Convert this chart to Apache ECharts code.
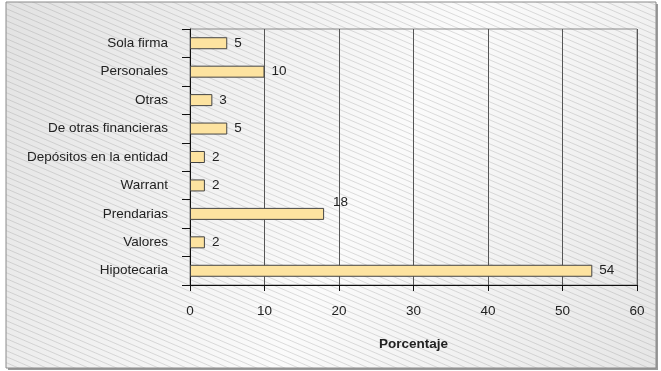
<!DOCTYPE html>
<html><head><meta charset="utf-8">
<script src="https://cdn.jsdelivr.net/npm/echarts@6/dist/echarts.min.js"></script>
<style>html,body{margin:0;padding:0;background:#fff}#c{width:661px;height:371px}</style>
</head><body><div id="c"></div>
<script>
var categories = ['Hipotecaria','Valores','Prendarias','Warrant','Depósitos en la entidad','De otras financieras','Otras','Personales','Sola firma'];
var values = [54, 2, 18, 2, 2, 5, 3, 10, 5];
var axisName = 'Porcentaje';

var tile = document.createElement('canvas');
tile.width = 14; tile.height = 6;
var tc = tile.getContext('2d');
tc.strokeStyle = 'rgba(150,150,150,0.4)';
tc.lineWidth = 0.8;
tc.beginPath(); tc.moveTo(-14,-6); tc.lineTo(28,12); tc.stroke();
tc.beginPath(); tc.moveTo(-14,0); tc.lineTo(14,12); tc.stroke();
tc.beginPath(); tc.moveTo(0,-6); tc.lineTo(28,6); tc.stroke();

var FS = 13.5;
var chart = echarts.init(document.getElementById('c'), null, {renderer:'canvas'});
var data = values.map(function(v, i){
  var d = {value: v};
  if (categories[i] === 'Prendarias') {
    d.label = {position: ['100%', -13], offset: [9, 0]};
  }
  return d;
});
chart.setOption({
  animation: false,
  graphic: [
    {type:'rect', z:-10, shape:{x:8,y:4,width:650,height:366}, style:{fill:'#9a9a9a'}},
    {type:'rect', z:-9, shape:{x:6,y:2,width:650,height:366},
      style:{fill:new echarts.graphic.LinearGradient(0,0,1,1,[
        {offset:0,color:'#e2e2e2'},{offset:0.55,color:'#fbfbfb'},{offset:1,color:'#e6e6e6'}]),
        stroke:'#8a8a8a', lineWidth:1}},
    {type:'rect', z:-8, shape:{x:6,y:2,width:650,height:366},
      style:{fill:{image: tile, repeat:'repeat'}}}
  ],
  grid: {left:190, right:24, top:29, bottom:86, show:true, borderColor:'#8a8a8a', borderWidth:1, backgroundColor:'transparent'},
  xAxis: {
    type:'value', min:0, max:60, interval:10,
    name: axisName, nameLocation:'middle', nameGap:52,
    nameTextStyle:{fontFamily:'Liberation Sans', fontSize:FS, fontWeight:'bold', color:'#222'},
    axisLine:{show:true, lineStyle:{color:'#111', width:1}},
    axisTick:{show:true, length:6, lineStyle:{color:'#111'}},
    axisLabel:{fontFamily:'Liberation Sans', fontSize:FS, color:'#222', margin:19},
    splitLine:{show:true, lineStyle:{color:'#555', width:1}}
  },
  yAxis: {
    type:'category', data: categories,
    axisLine:{show:true, lineStyle:{color:'#111', width:1}},
    axisTick:{show:true, length:8, lineStyle:{color:'#111'}},
    axisLabel:{fontFamily:'Liberation Sans', fontSize:FS, color:'#222', margin:22}
  },
  series: [{
    type:'bar', data: data, barWidth:12,
    itemStyle:{color:'#fde3a0', borderColor:'#444', borderWidth:1},
    label:{show:true, position:'right', distance:7, fontFamily:'Liberation Sans', fontSize:FS, color:'#222'}
  }]
});
</script></body></html>
